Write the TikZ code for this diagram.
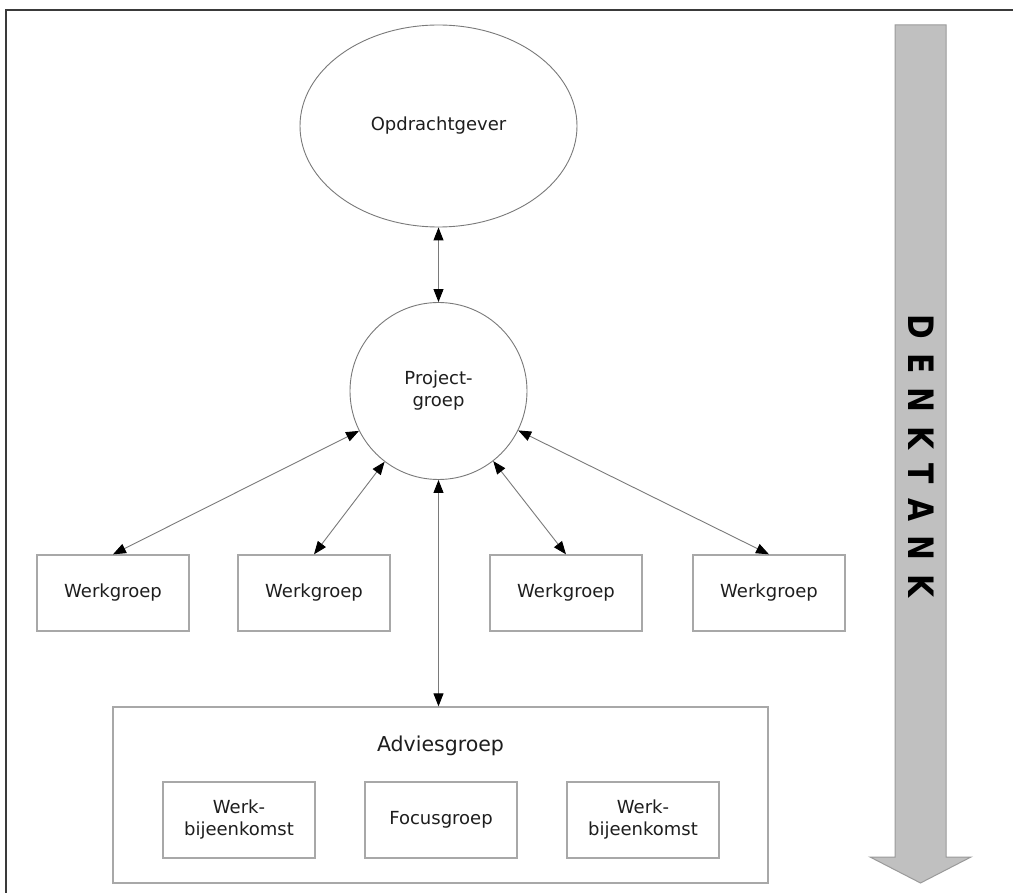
\documentclass[tikz,border=0pt]{standalone}
\usepackage{fontspec}
\setmainfont{DejaVu Sans}
\usetikzlibrary{shapes.geometric,arrows.meta}
\definecolor{ink}{HTML}{1E1E1E}
\definecolor{outline}{HTML}{7A7A7A}
\definecolor{boxline}{HTML}{A8A8A8}
\definecolor{frameline}{HTML}{3A3A3A}
\definecolor{bandfill}{HTML}{C0C0C0}
\definecolor{bandline}{HTML}{9A9A9A}
\newcommand\dkgap{\hspace{16.5pt}}
\begin{document}
\begin{tikzpicture}[x=1pt,y=-1pt,
  every node/.style={text=ink,font=\fontsize{18}{22}\selectfont,align=center},
  oval/.style={draw=outline,line width=0.9pt,ellipse,inner sep=0pt},
  ring/.style={draw=outline,line width=0.9pt,circle,inner sep=0pt,minimum size=177pt},
  groupbox/.style={draw=boxline,line width=1.3pt,rectangle,inner sep=0pt,
    minimum width=152pt,minimum height=76pt},
  link/.style={draw=outline,line width=0.9pt,
    {Triangle[length=13pt,width=10pt,color=black]}-{Triangle[length=13pt,width=10pt,color=black]}}]
\useasboundingbox (0,0) rectangle (1013,893);
\fill[white] (0,0) rectangle (1013,893);

% outer frame (top and left edges)
\draw[frameline,line width=2pt] (1013,10.5) -- (6,10.5) -- (6,893);

% downward band arrow
\draw[bandline,fill=bandfill,line width=1pt]
  (895,25) -- (946,25) -- (946,857) -- (971,857) -- (920.5,883)
  -- (870,857) -- (895,857) -- cycle;
\node[rotate=-90,font=\fontsize{35}{35}\selectfont\bfseries,text=black] (denk) at (921,456)
  {\scalebox{0.85}[1]{D\dkgap E\dkgap N\dkgap K\dkgap T\dkgap A\dkgap N\dkgap K}};

% top levels
\node[oval,minimum width=277pt,minimum height=202pt] (opd) at (438.5,126) {Opdrachtgever};
\node[ring] (pg) at (438.5,391) {Project-\\groep};

% work groups
\node[groupbox] (w1) at (113,593) {Werkgroep};
\node[groupbox] (w2) at (314,593) {Werkgroep};
\node[groupbox] (w3) at (566,593) {Werkgroep};
\node[groupbox] (w4) at (769,593) {Werkgroep};

% advisory group with its parts
\node[groupbox,minimum width=655pt,minimum height=176pt] (adv) at (440.5,795) {};
\node[font=\fontsize{20.5}{24}\selectfont] (advt) at (440.5,746) {Adviesgroep};
\node[groupbox] (a1) at (239,820) {Werk-\\bijeenkomst};
\node[groupbox] (a2) at (441,820) {Focusgroep};
\node[groupbox] (a3) at (643,820) {Werk-\\bijeenkomst};

% connectors
\draw[link] (opd.south) -- (pg.north);
\draw[link] (pg) -- (w1.north);
\draw[link] (pg) -- (w2.north);
\draw[link] (pg) -- (w3.north);
\draw[link] (pg) -- (w4.north);
\draw[link] (pg.south) -- (pg.south |- adv.north);
\end{tikzpicture}
\end{document}
